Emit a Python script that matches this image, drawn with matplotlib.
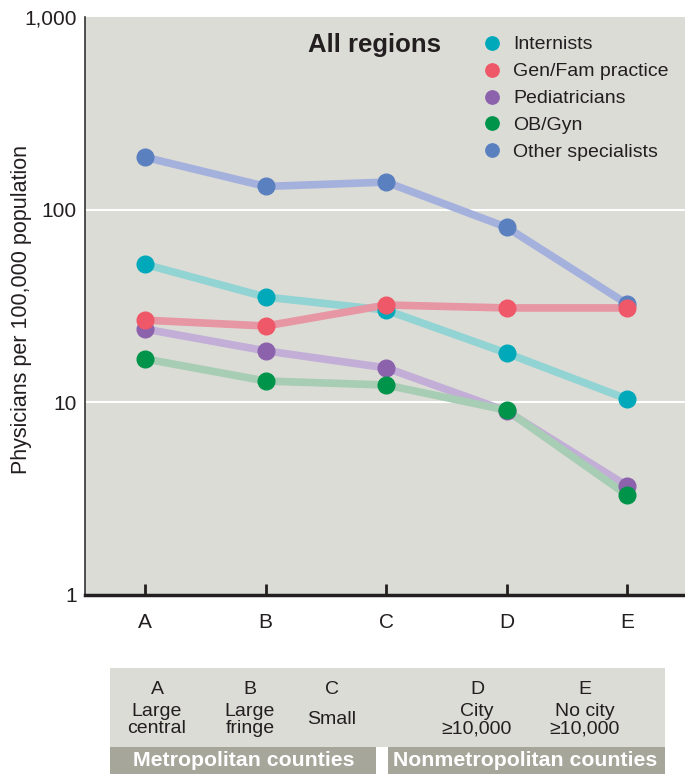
import matplotlib.pyplot as plt
from matplotlib.patches import Rectangle

categories = ["A", "B", "C", "D", "E"]
bottom_letters = ["A", "B", "C", "D", "E"]
bottom_desc = ["Large\ncentral", "Large\nfringe", "Small",
               "City\n\u226510,000", "No city\n\u226510,000"]
series_names = ["Internists", "Gen/Fam practice", "Pediatricians", "OB/Gyn",
                "Other specialists"]
internists = [52, 35.2, 30.1, 18.0, 10.4]
gen_fam = [26.7, 24.9, 32.0, 30.9, 30.9]
pediatricians = [24.0, 18.5, 15.1, 9.0, 3.68]
ob_gyn = [16.8, 12.9, 12.3, 9.1, 3.30]
other_spec = [187, 132, 139, 81, 32.4]
y_ticks = [1, 10, 100, 1000]
y_ticklabels = ["1", "10", "100", "1,000"]

MARKER_COLORS = ["#00a9ba", "#ef5868", "#8c62ad", "#00944a", "#5a80c0"]
LINE_COLORS = ["#92d3d3", "#e797a4", "#c2aed6", "#a8cdb5", "#a5b1dd"]
# stacking of the dots where they overlap (red over blue, green over purple)
DOT_Z = [3.2, 3.4, 3.1, 3.3, 3.0]
BG = "#dcdcd6"
DARK = "#a6a69b"
INK = "#231f20"

plt.rcParams["font.family"] = ["Liberation Sans", "DejaVu Sans"]

fig = plt.figure(figsize=(6.85, 7.74), dpi=100)
ax = fig.add_axes([85 / 685, 179 / 774, 600 / 685, 578 / 774])
ax.set_facecolor(BG)

x = list(range(len(categories)))
all_series = [internists, gen_fam, pediatricians, ob_gyn, other_spec]
# lines first, then the dots on top
for vals, lc, z in zip(all_series, LINE_COLORS, DOT_Z):
    ax.plot(x, vals, color=lc, lw=5.5, solid_capstyle="round", zorder=z - 1)
for vals, mc, name, z in zip(all_series, MARKER_COLORS, series_names, DOT_Z):
    ax.plot(x, vals, ls="none", marker="o", ms=12, color=mc, zorder=z,
            label=name)

ax.set_yscale("log")
ax.set_ylim(1, 1000)
ax.set_xlim(-0.5, 4.48)
ax.set_yticks(y_ticks)
ax.set_yticklabels(y_ticklabels)
ax.yaxis.set_minor_locator(plt.NullLocator())
ax.tick_params(axis="y", length=0, labelsize=15, pad=6, colors=INK)
ax.set_xticks(x)
ax.set_xticklabels(categories)
ax.tick_params(axis="x", direction="in", length=8, width=2, labelsize=15,
               pad=13, color=INK, labelcolor=INK)
for yv in [10, 100]:
    ax.axhline(yv, color="white", lw=1.5, zorder=1)
for s in ("top", "right"):
    ax.spines[s].set_visible(False)
ax.spines["left"].set_linewidth(1.2)
ax.spines["left"].set_color("#333333")
ax.spines["bottom"].set_linewidth(2.5)
ax.spines["bottom"].set_color(INK)
fig.text(22 / 685, 1 - 310 / 774, "Physicians per 100,000 population",
         rotation=90, ha="center", va="center", fontsize=15.5, color=INK)

ax.text(0.482, 0.952, "All regions", transform=ax.transAxes, fontsize=18.5,
        fontweight="bold", ha="center", va="center", color=INK)
leg = ax.legend(loc="upper right", bbox_to_anchor=(1.0, 0.996), frameon=False,
                fontsize=14, handletextpad=0.1, labelspacing=0.48,
                markerscale=0.8, borderaxespad=0.45)
for t in leg.get_texts():
    t.set_color(INK)

# bottom category panel
pan = fig.add_axes([0, 0, 1, 1], facecolor="none")
pan.set_xlim(0, 685)
pan.set_ylim(774, 0)
pan.axis("off")
pan.add_patch(Rectangle((110, 668), 555, 79, color=BG, lw=0))
pan.add_patch(Rectangle((110, 747), 266, 27, color=DARK, lw=0))
pan.add_patch(Rectangle((388, 747), 277, 27, color=DARK, lw=0))
label_x = [157, 250, 332, 477, 585]
for lx, let, desc in zip(label_x, bottom_letters, bottom_desc):
    pan.text(lx, 690, let, ha="center", va="center", fontsize=14, color=INK)
    pan.text(lx, 720, desc, ha="center", va="center", fontsize=14,
             linespacing=1.05, color=INK)
pan.text(244, 761, "Metropolitan counties", ha="center", va="center",
         fontsize=15.3, fontweight="bold", color="white")
pan.text(525, 761, "Nonmetropolitan counties", ha="center", va="center",
         fontsize=15.3, fontweight="bold", color="white")

fig.savefig("out.png", dpi=100)
